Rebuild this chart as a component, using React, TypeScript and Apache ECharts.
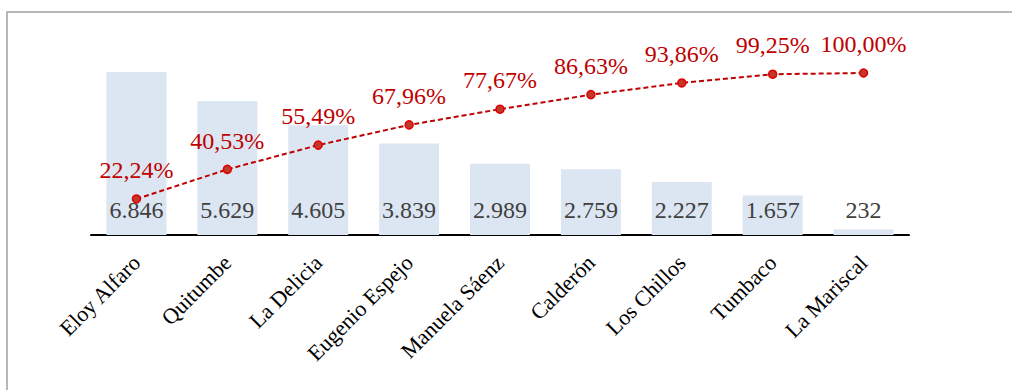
import React, { useEffect, useRef } from "react";
import * as echarts from "echarts";

const categories = [
  "Eloy Alfaro",
  "Quitumbe",
  "La Delicia",
  "Eugenio Espejo",
  "Manuela Sáenz",
  "Calderón",
  "Los Chillos",
  "Tumbaco",
  "La Mariscal",
];
const counts = [6846, 5629, 4605, 3839, 2989, 2759, 2227, 1657, 232];
const cumulativePct = [22.24, 40.53, 55.49, 67.96, 77.67, 86.63, 93.86, 99.25, 100.0];

const FONT = "Liberation Serif";

const fmtThousands = (v: number) => String(v).replace(/\B(?=(\d{3})+(?!\d))/g, ".");
const fmtPct = (v: number) => v.toFixed(2).replace(".", ",") + "%";

export default function App() {
  const ref = useRef<HTMLDivElement>(null);
  useEffect(() => {
    if (!ref.current) return;
    const chart = echarts.init(ref.current, null, { renderer: "svg" });
    chart.setOption({
      animation: false,
      backgroundColor: "#ffffff",
      textStyle: { fontFamily: FONT },
      graphic: [
        {
          type: "rect",
          shape: { x: 7, y: 12, width: 1020, height: 400 },
          style: { fill: "none", stroke: "#b8b8b8", lineWidth: 2 },
          silent: true,
        },
      ],
      grid: { left: 91, right: 103, top: 44.5, bottom: 155, containLabel: false },
      xAxis: {
        type: "category",
        data: categories,
        axisLine: { show: true, lineStyle: { color: "#000000", width: 2 } },
        axisTick: { show: false },
        axisLabel: {
          rotate: 45,
          margin: 24,
          fontFamily: FONT,
          fontSize: 22,
          color: "#000000",
          interval: 0,
        },
      },
      yAxis: [
        {
          type: "value",
          min: 0,
          max: 8000,
          show: false,
          splitLine: { show: false },
        },
        {
          type: "value",
          min: 0,
          max: 117.6,
          show: false,
          splitLine: { show: false },
        },
      ],
      series: [
        {
          type: "bar",
          data: counts,
          yAxisIndex: 0,
          barCategoryGap: "34%",
          itemStyle: { color: "#dce6f2" },
          label: {
            show: true,
            position: "insideBottom",
            distance: 13,
            fontFamily: FONT,
            fontSize: 24,
            color: "#404040",
            formatter: (p: any) => fmtThousands(p.value),
          },
        },
        {
          type: "line",
          data: cumulativePct,
          yAxisIndex: 1,
          symbol: "circle",
          symbolSize: 8,
          lineStyle: { color: "#c00000", width: 2, type: [5, 3] },
          itemStyle: { color: "#c0392b", borderColor: "#e00000", borderWidth: 1.5 },
          label: {
            show: true,
            position: "top",
            distance: 12,
            fontFamily: FONT,
            fontSize: 24,
            color: "#c00000",
            formatter: (p: any) => fmtPct(p.value),
          },
        },
      ],
    });
    return () => chart.dispose();
  }, []);
  return (
    <div
      ref={ref}
      style={{ position: "fixed", left: 0, top: 0, width: 1012, height: 390 }}
    />
  );
}
